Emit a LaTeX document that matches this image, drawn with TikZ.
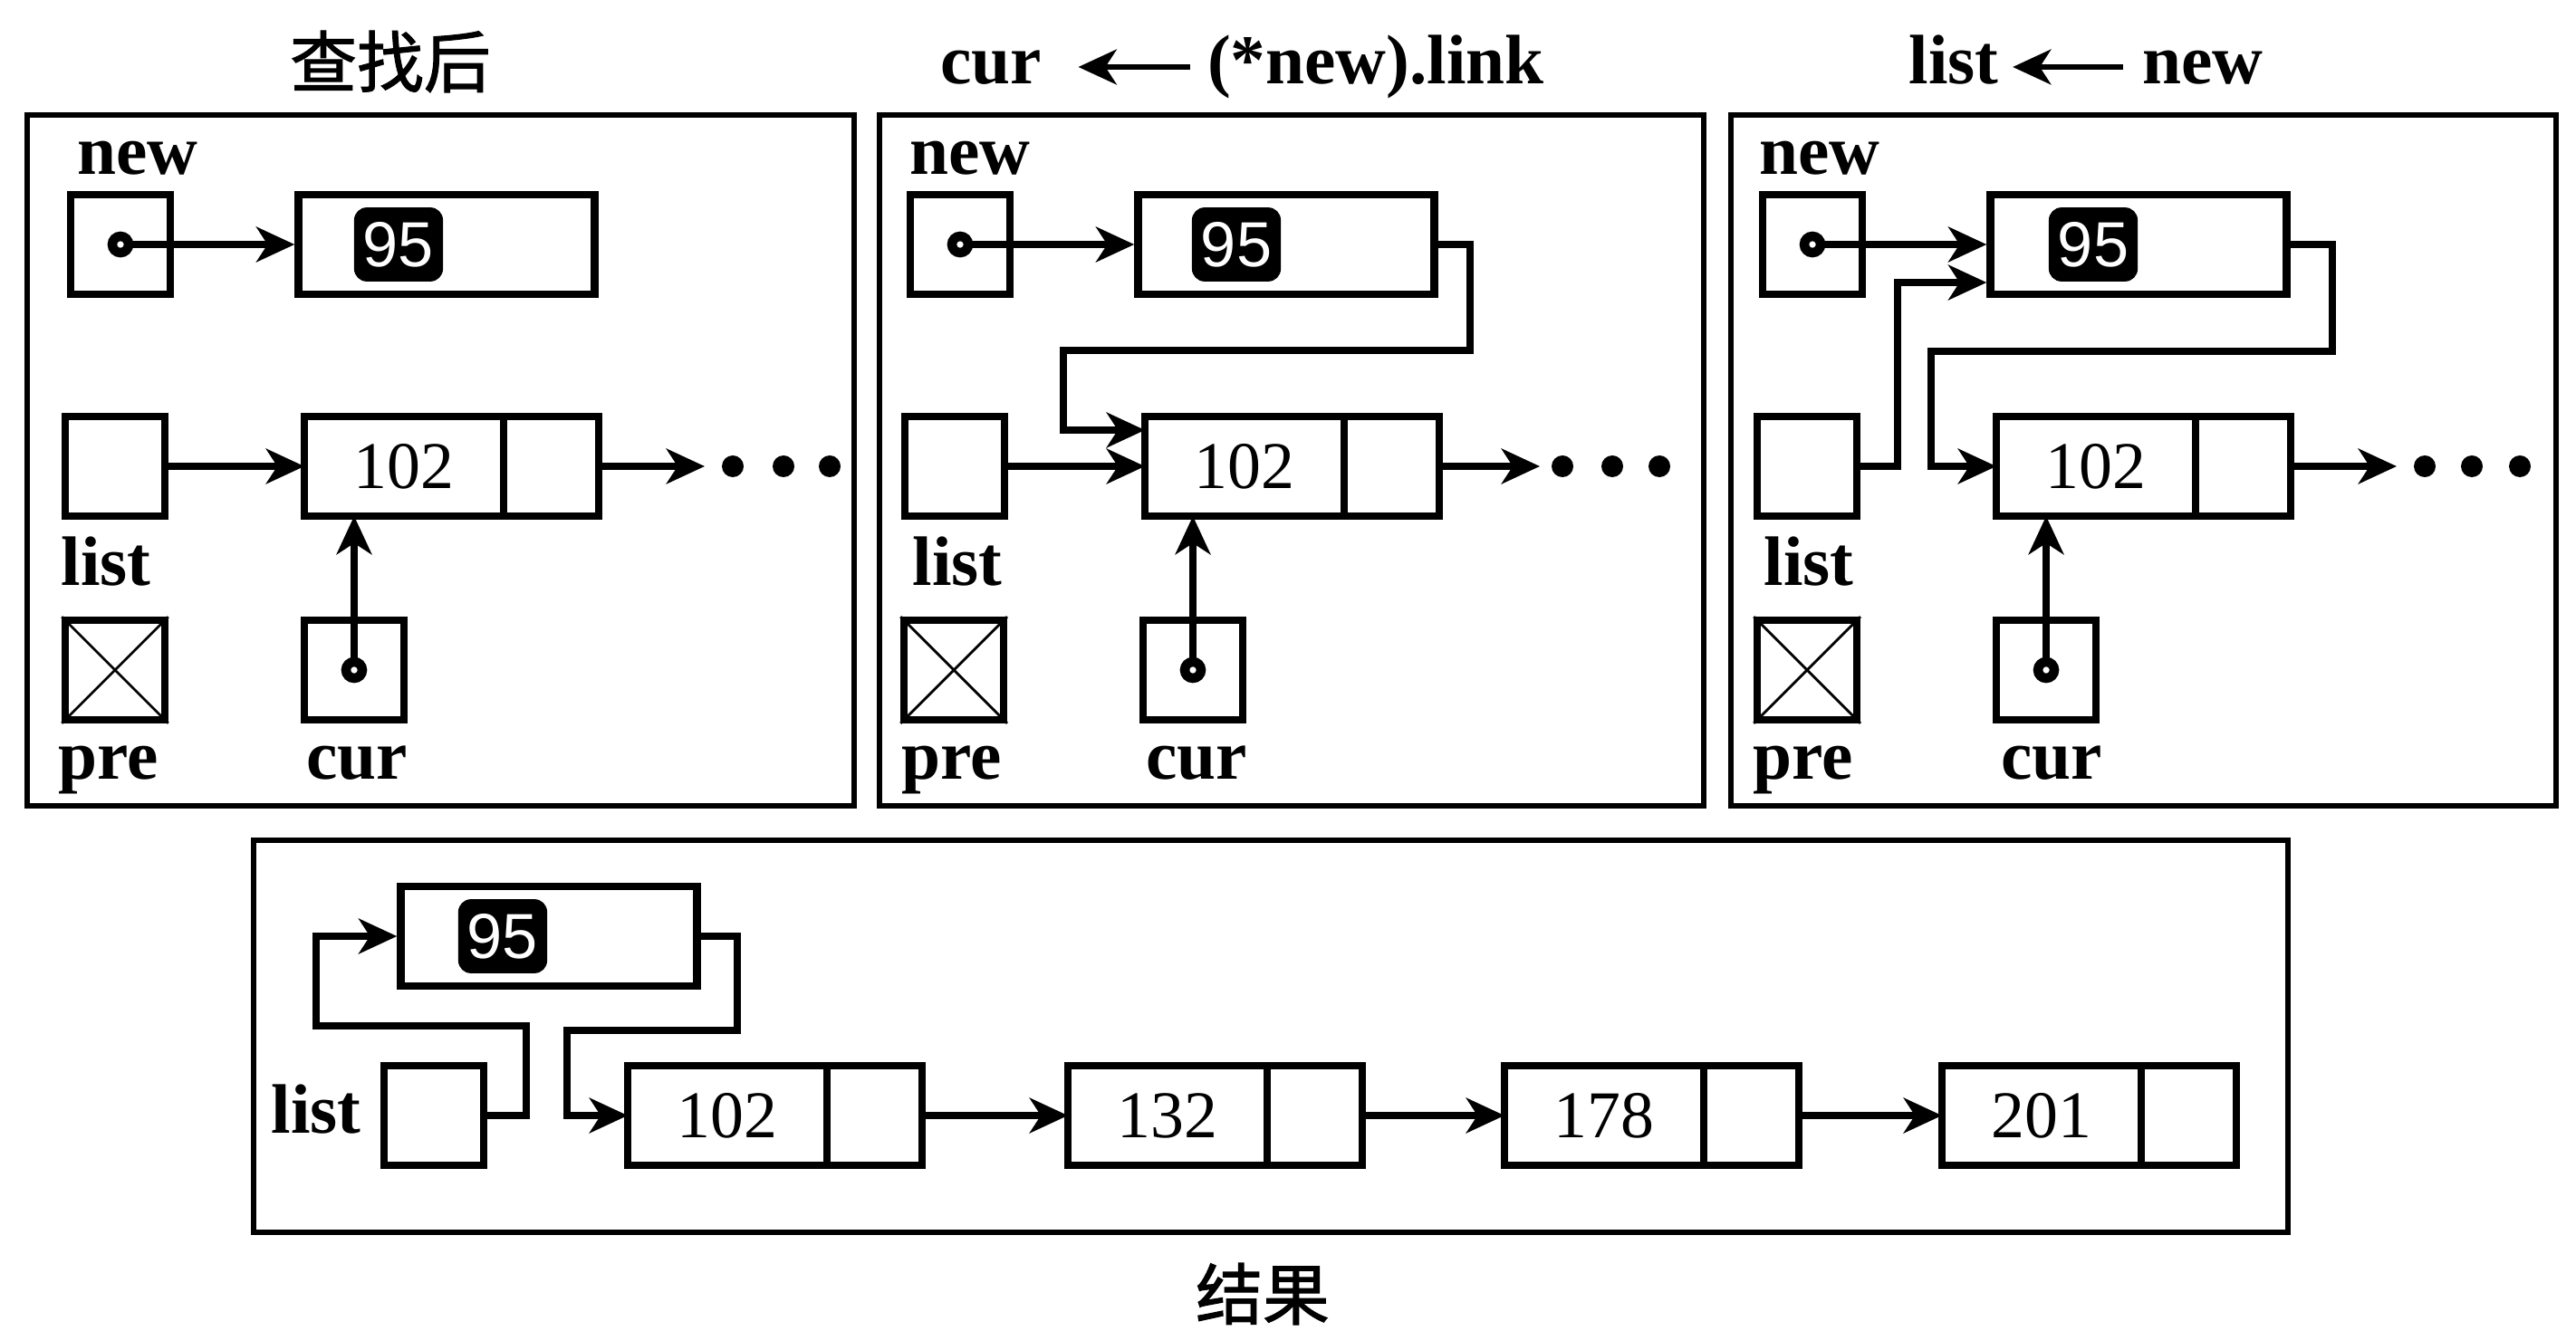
\documentclass[tikz,border=0pt]{standalone}
\usepackage{fontspec}
\setmainfont{Liberation Serif}
\newfontfamily\cjk[FakeBold=1.5]{Noto Sans CJK SC}
\usetikzlibrary{arrows.meta,positioning}

\begin{document}
\begin{tikzpicture}[
    every node/.style={font=\fontsize{21}{25}\selectfont},
    ptrbox/.style={rectangle, draw, line width=2.2pt, minimum width=1.1cm, minimum height=1.1cm, inner sep=0pt},
    valbox/.style={rectangle, draw, line width=2.4pt, minimum width=3.27cm, minimum height=1.1cm, inner sep=0pt},
    badge/.style={fill=black, text=white, rounded corners=4pt, inner xsep=1mm, inner ysep=1.6mm, font=\fontsize{20}{24}\selectfont\sffamily},
    datafield/.style={rectangle, draw, line width=2.2pt, minimum width=2.2cm, minimum height=1.1cm, inner sep=0pt, outer sep=0pt},
    linkfield/.style={rectangle, draw, line width=2.2pt, minimum width=1.05cm, minimum height=1.1cm, inner sep=0pt, outer sep=0pt},
    varname/.style={font=\fontsize{22}{26}\selectfont\bfseries, anchor=base, inner sep=0pt},
    title/.style={font=\fontsize{22}{26}\selectfont\bfseries, anchor=base, inner sep=0pt},
    cjktitle/.style={font=\fontsize{21}{25}\selectfont\cjk, inner sep=0pt},
    arrow/.style={->, >={Stealth[length=12pt,width=11pt,inset=3.5pt]}, line width=2.2pt},
    panel/.style={line width=1.6pt},
    ptrdot/.style={line width=3pt, fill=white},
    cross/.style={line width=0.8pt}
]
\useasboundingbox (0,0) rectangle (28.44,-14.70);
\setsansfont{Liberation Sans}

% Panel 1 - after the search
\draw[panel] (0.30,-1.27) rectangle (9.43,-8.90);
\node[cjktitle] (title1) at (4.31,-0.68) {查找后};
\node[varname] (lblnew1) at (1.52,-1.93) {new};
\node[ptrbox] (new1) at (1.33,-2.70) {};
\node[valbox] (v95a) at (4.93,-2.70) {};
\node[badge] (t95a) at ([xshift=-5.3mm]v95a.center) {95};
\node[ptrbox] (list1) at (1.27,-5.15) {};
\node[datafield] (d102a) at (4.46,-5.15) {102};
\node[linkfield, right=0pt of d102a] (l102a) {};
\coordinate (etc1) at (7.78,-5.15);
\node[varname] (lbllist1) at (1.17,-6.46) {list};
\node[ptrbox] (pre1) at (1.27,-7.40) {};
\node[varname] (lblpre1) at (1.20,-8.60) {pre};
\node[ptrbox] (cur1) at (3.91,-7.40) {};
\node[varname] (lblcur1) at (3.94,-8.60) {cur};

\draw[arrow] (new1.center) -- (v95a.west);
\draw[ptrdot] (new1.center) circle (0.09);
\draw[arrow] (list1) -- (d102a);
\draw[arrow] (l102a) -- (etc1);
\draw[arrow] (cur1.center) -- (cur1.center |- d102a.south);
\draw[ptrdot] (cur1.center) circle (0.09);
\draw[cross] (pre1.north west) -- (pre1.south east) (pre1.north east) -- (pre1.south west);
\fill (8.09,-5.15) circle (0.12) (8.65,-5.15) circle (0.12) (9.16,-5.15) circle (0.12);

% Panel 2 - cur <- (*new).link
\draw[panel] (9.71,-1.27) rectangle (18.81,-8.90);
\node[title] (t2cur) at (10.94,-0.93) {cur};
\node[title] (t2src) at (15.19,-0.93) {(*new).link};
\draw[arrow, line width=1.8pt] ([xshift=-0.19cm, yshift=0.19cm]t2src.base west) -- ([xshift=0.40cm, yshift=0.19cm]t2cur.base east);
\node[varname] (lblnew2) at (10.71,-1.93) {new};
\node[ptrbox] (new2) at (10.60,-2.70) {};
\node[valbox] (v95b) at (14.20,-2.70) {};
\node[badge] (t95b) at ([xshift=-5.5mm]v95b.center) {95};
\node[ptrbox] (list2) at (10.54,-5.15) {};
\node[datafield] (d102b) at (13.74,-5.15) {102};
\node[linkfield, right=0pt of d102b] (l102b) {};
\coordinate (etc2) at (17.00,-5.15);
\node[varname] (lbllist2) at (10.57,-6.46) {list};
\node[ptrbox] (pre2) at (10.53,-7.40) {};
\node[varname] (lblpre2) at (10.51,-8.60) {pre};
\node[ptrbox] (cur2) at (13.17,-7.40) {};
\node[varname] (lblcur2) at (13.21,-8.60) {cur};
\coordinate (turn2) at (16.23,-3.87);
\coordinate (in2) at (11.74,-4.75);

\draw[arrow] (new2.center) -- (v95b.west);
\draw[ptrdot] (new2.center) circle (0.09);
\draw[arrow] (v95b.east) -| (turn2) -| (in2) -- (in2 -| d102b.west);
\draw[arrow] (list2) -- (d102b);
\draw[arrow] (l102b) -- (etc2);
\draw[arrow] (cur2.center) -- (cur2.center |- d102b.south);
\draw[ptrdot] (cur2.center) circle (0.09);
\draw[cross] (pre2.north west) -- (pre2.south east) (pre2.north east) -- (pre2.south west);
\fill (17.25,-5.15) circle (0.12) (17.80,-5.15) circle (0.12) (18.32,-5.15) circle (0.12);

% Panel 3 - list <- new
\draw[panel] (19.11,-1.27) rectangle (28.22,-8.90);
\node[title] (t3list) at (21.57,-0.93) {list};
\node[title] (t3new) at (24.32,-0.93) {new};
\draw[arrow, line width=1.8pt] ([xshift=-0.21cm, yshift=0.19cm]t3new.base west) -- ([xshift=0.15cm, yshift=0.19cm]t3list.base east);
\node[varname] (lblnew3) at (20.09,-1.93) {new};
\node[ptrbox] (new3) at (20.01,-2.70) {};
\node[valbox] (v95c) at (23.61,-2.70) {};
\node[badge] (t95c) at ([xshift=-5mm]v95c.center) {95};
\node[ptrbox] (list3) at (19.95,-5.15) {};
\node[datafield] (d102c) at (23.14,-5.15) {102};
\node[linkfield, right=0pt of d102c] (l102c) {};
\coordinate (etc3) at (26.46,-5.15);
\node[varname] (lbllist3) at (19.97,-6.46) {list};
\node[ptrbox] (pre3) at (19.95,-7.40) {};
\node[varname] (lblpre3) at (19.91,-8.60) {pre};
\node[ptrbox] (cur3) at (22.59,-7.40) {};
\node[varname] (lblcur3) at (22.65,-8.60) {cur};
\coordinate (up3) at (20.95,-3.12);
\coordinate (turn3) at (25.75,-3.88);
\coordinate (in3) at (21.32,-5.15);

\draw[arrow] (new3.center) -- (v95c.west);
\draw[ptrdot] (new3.center) circle (0.09);
\draw[arrow] (list3.east) -| (up3) -- (up3 -| v95c.west);
\draw[arrow] (v95c.east) -| (turn3) -| (in3) -- (d102c.west);
\draw[arrow] (l102c) -- (etc3);
\draw[arrow] (cur3.center) -- (cur3.center |- d102c.south);
\draw[ptrdot] (cur3.center) circle (0.09);
\draw[cross] (pre3.north west) -- (pre3.south east) (pre3.north east) -- (pre3.south west);
\fill (26.77,-5.15) circle (0.12) (27.29,-5.15) circle (0.12) (27.82,-5.15) circle (0.12);

% Result
\draw[panel] (2.80,-9.28) rectangle (25.26,-13.61);
\node[cjktitle] (title4) at (13.94,-14.29) {结果};
\node[valbox] (v95d) at (6.06,-10.34) {};
\node[badge] (t95d) at ([xshift=-5.1mm]v95d.center) {95};
\node[ptrbox] (list4) at (4.79,-12.32) {};
\node[varname] (lbllist4) at (3.49,-12.51) {list};
\node[datafield] (d102d) at (8.03,-12.32) {102};
\node[linkfield, right=0pt of d102d] (l102d) {};
\node[datafield] (d132) at (12.89,-12.32) {132};
\node[linkfield, right=0pt of d132] (l132) {};
\node[datafield] (d178) at (17.71,-12.32) {178};
\node[linkfield, right=0pt of d178] (l178) {};
\node[datafield] (d201) at (22.54,-12.32) {201};
\node[linkfield, right=0pt of d201] (l201) {};
\coordinate (drop4) at (5.81,-11.33);
\coordinate (loop4) at (3.49,-11.33);
\coordinate (turn4) at (8.14,-11.38);
\coordinate (in4) at (6.26,-12.32);

\draw[arrow] (list4.east) -| (drop4) -| (loop4) |- (v95d.west);
\draw[arrow] (v95d.east) -| (turn4) -| (in4) -- (d102d.west);
\draw[arrow] (l102d) -- (d132);
\draw[arrow] (l132) -- (d178);
\draw[arrow] (l178) -- (d201);

\end{tikzpicture}
\end{document}
